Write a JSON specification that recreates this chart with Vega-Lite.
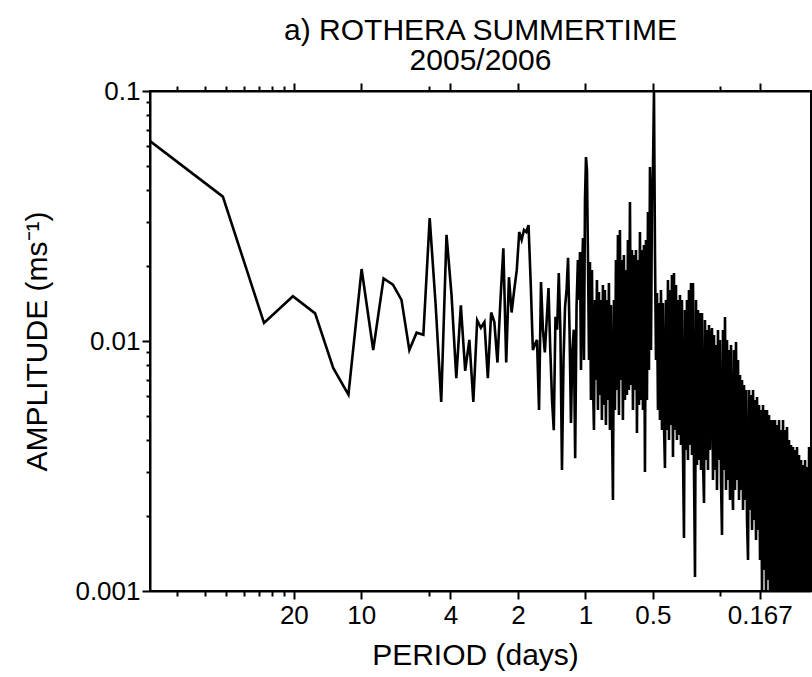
{
"$schema": "https://vega.github.io/schema/vega-lite/v6.json",
"autosize": {"type": "none"},
"width": 661, "height": 500,
"padding": {"left": 150, "top": 91, "right": 1, "bottom": 86},
"background": "white",
"config": {
  "font": "Liberation Sans",
  "view": {"stroke": "black", "strokeWidth": 2},
  "axis": {"domainColor": "black", "domainWidth": 2, "tickColor": "black", "tickWidth": 2, "labelColor": "black", "titleColor": "black", "grid": false, "labelFont": "Liberation Sans", "titleFont": "Liberation Sans", "labelFontSize": 26, "titleFontSize": 30, "titleFontWeight": "normal"}
},
"title": {"text": ["a) ROTHERA SUMMERTIME", "2005/2006"], "fontSize": 30, "font": "Liberation Sans", "fontWeight": "normal", "lineHeight": 30, "anchor": "middle", "offset": 2, "color": "black"},
"data": {"values": [
{"freq":0.0114,"amp":0.0631},{"freq":0.0241,"amp":0.0378},{"freq":0.0368,"amp":0.0118},{"freq":0.0495,"amp":0.0151},{"freq":0.0622,"amp":0.0129},{"freq":0.0749,"amp":0.0078},{"freq":0.0876,"amp":0.0061},{"freq":0.1003,"amp":0.0194},{"freq":0.113,"amp":0.0092},{"freq":0.1257,"amp":0.0178},{"freq":0.1384,"amp":0.0168},{"freq":0.1511,"amp":0.0146},{"freq":0.1638,"amp":0.0092},{"freq":0.1765,"amp":0.0108},{"freq":0.1892,"amp":0.0106},{"freq":0.2019,"amp":0.031},{"freq":0.2146,"amp":0.014},{"freq":0.2273,"amp":0.0057},{"freq":0.24,"amp":0.0266},{"freq":0.2527,"amp":0.0153},
{"freq":0.2654,"amp":0.0071},{"freq":0.2781,"amp":0.0139},{"freq":0.2908,"amp":0.0076},{"freq":0.3035,"amp":0.0101},{"freq":0.3162,"amp":0.0057},{"freq":0.3289,"amp":0.0121},{"freq":0.3416,"amp":0.0113},{"freq":0.3543,"amp":0.0119},{"freq":0.367,"amp":0.0071},{"freq":0.3797,"amp":0.013},{"freq":0.3924,"amp":0.0119},{"freq":0.4051,"amp":0.0082},{"freq":0.4178,"amp":0.0146},{"freq":0.4305,"amp":0.0235},{"freq":0.4432,"amp":0.0082},{"freq":0.4559,"amp":0.018},{"freq":0.4686,"amp":0.013},{"freq":0.4813,"amp":0.016},{"freq":0.494,"amp":0.0192},{"freq":0.5067,"amp":0.0273},
{"freq":0.5194,"amp":0.0254},{"freq":0.5321,"amp":0.0278},{"freq":0.5448,"amp":0.0273},{"freq":0.5575,"amp":0.0291},{"freq":0.5702,"amp":0.017},{"freq":0.5829,"amp":0.0092},{"freq":0.5956,"amp":0.0097},{"freq":0.6083,"amp":0.0101},{"freq":0.621,"amp":0.0053},{"freq":0.6337,"amp":0.0172},{"freq":0.6464,"amp":0.0111},{"freq":0.6591,"amp":0.009},{"freq":0.6718,"amp":0.0121},{"freq":0.6845,"amp":0.0163},{"freq":0.6972,"amp":0.0092},{"freq":0.7099,"amp":0.0058},{"freq":0.7226,"amp":0.0044},{"freq":0.7353,"amp":0.0125},{"freq":0.748,"amp":0.0111},{"freq":0.7607,"amp":0.0187},
{"freq":0.7734,"amp":0.0111},{"freq":0.7861,"amp":0.00305},{"freq":0.7988,"amp":0.0084},{"freq":0.8115,"amp":0.0137},{"freq":0.8242,"amp":0.016},{"freq":0.8369,"amp":0.0215},{"freq":0.8496,"amp":0.0111},{"freq":0.8623,"amp":0.0047},{"freq":0.875,"amp":0.0092},{"freq":0.8877,"amp":0.0111},{"freq":0.9004,"amp":0.0034},{"freq":0.9131,"amp":0.0137},{"freq":0.9258,"amp":0.0211},{"freq":0.9385,"amp":0.0146},
{"freq":0.946,"amp":0.0227},{"freq":0.9558,"amp":0.007656},{"freq":0.9656,"amp":0.01754},{"freq":0.9756,"amp":0.02583},{"freq":0.9857,"amp":0.008395},{"freq":0.9959,"amp":0.03664},{"freq":1.0062,"amp":0.05446},{"freq":1.0166,"amp":0.04831},{"freq":1.0271,"amp":0.02109},{"freq":1.0377,"amp":0.008395},
{"freq":1.048,"amp":0.0207},{"freq":1.0588,"amp":0.005808},{"freq":1.0698,"amp":0.01923},{"freq":1.0808,"amp":0.00698},{"freq":1.092,"amp":0.004406},{"freq":1.1033,"amp":0.01459},{"freq":1.1146,"amp":0.00698},{"freq":1.1262,"amp":0.01754},{"freq":1.1378,"amp":0.005297},{"freq":1.1496,"amp":0.01571},
{"freq":1.161,"amp":0.00608},{"freq":1.173,"amp":0.01459},{"freq":1.1851,"amp":0.004831},{"freq":1.1974,"amp":0.01675},{"freq":1.2097,"amp":0.005547},{"freq":1.2222,"amp":0.016},{"freq":1.2349,"amp":0.004614},{"freq":1.2476,"amp":0.01459},{"freq":1.2605,"amp":0.005808},{"freq":1.2735,"amp":0.01706},
{"freq":1.287,"amp":0.004406},{"freq":1.3003,"amp":0.01393},{"freq":1.3137,"amp":0.005059},{"freq":1.3273,"amp":0.002312},{"freq":1.341,"amp":0.01459},{"freq":1.3549,"amp":0.005297},{"freq":1.3689,"amp":0.02109},{"freq":1.383,"amp":0.006368},{"freq":1.3973,"amp":0.02655},{"freq":1.4117,"amp":0.005059},
{"freq":1.426,"amp":0.0278},{"freq":1.4407,"amp":0.00698},{"freq":1.4556,"amp":0.02109},{"freq":1.4706,"amp":0.004831},{"freq":1.4858,"amp":0.02208},{"freq":1.5012,"amp":0.005808},{"freq":1.5167,"amp":0.01923},{"freq":1.5324,"amp":0.00608},{"freq":1.5482,"amp":0.02535},{"freq":1.5642,"amp":0.006368},
{"freq":1.581,"amp":0.03597},{"freq":1.5973,"amp":0.006666},{"freq":1.6138,"amp":0.02312},{"freq":1.6305,"amp":0.005297},{"freq":1.6473,"amp":0.02208},{"freq":1.6644,"amp":0.006368},{"freq":1.6816,"amp":0.02312},{"freq":1.6989,"amp":0.004286},{"freq":1.7165,"amp":0.02109},{"freq":1.7342,"amp":0.005547},
{"freq":1.752,"amp":0.02729},{"freq":1.7701,"amp":0.005808},{"freq":1.7884,"amp":0.02312},{"freq":1.8069,"amp":0.005297},{"freq":1.8255,"amp":0.02421},{"freq":1.8444,"amp":0.002992},{"freq":1.8634,"amp":0.02535},{"freq":1.8827,"amp":0.005808},{"freq":1.9021,"amp":0.03281},{"freq":1.9218,"amp":0.007656},
{"freq":1.942,"amp":0.04966},{"freq":1.9621,"amp":0.009204},{"freq":1.9824,"amp":0.03664},{"freq":2.0028,"amp":0.04831},{"freq":2.0235,"amp":0.1},{"freq":2.0444,"amp":0.02249},{"freq":2.0655,"amp":0.008395},{"freq":2.0869,"amp":0.01556},{"freq":2.1084,"amp":0.005297},{"freq":2.1302,"amp":0.01419},
{"freq":2.152,"amp":0.004831},{"freq":2.1742,"amp":0.016},{"freq":2.1967,"amp":0.004406},{"freq":2.2194,"amp":0.01419},{"freq":2.2423,"amp":0.004614},{"freq":2.2655,"amp":0.003105},{"freq":2.2889,"amp":0.01459},{"freq":2.3126,"amp":0.004406},{"freq":2.3365,"amp":0.01754},{"freq":2.3606,"amp":0.004018},
{"freq":2.385,"amp":0.016},{"freq":2.4096,"amp":0.004614},{"freq":2.4345,"amp":0.01836},{"freq":2.4597,"amp":0.003435},{"freq":2.4851,"amp":0.0187},{"freq":2.5107,"amp":0.004406},{"freq":2.5367,"amp":0.01675},{"freq":2.5629,"amp":0.004018},{"freq":2.5894,"amp":0.01459},{"freq":2.6161,"amp":0.004208},
{"freq":2.643,"amp":0.01528},{"freq":2.6703,"amp":0.003837},{"freq":2.6979,"amp":0.01459},{"freq":2.7258,"amp":0.003664},{"freq":2.754,"amp":0.00163},{"freq":2.7824,"amp":0.0133},{"freq":2.8112,"amp":0.003664},{"freq":2.8402,"amp":0.01459},{"freq":2.8695,"amp":0.003342},{"freq":2.8991,"amp":0.016},
{"freq":2.93,"amp":0.003837},{"freq":2.9603,"amp":0.01706},{"freq":2.9909,"amp":0.003499},{"freq":3.0218,"amp":0.01706},{"freq":3.053,"amp":0.003048},{"freq":3.0845,"amp":0.001137},{"freq":3.1164,"amp":0.01459},{"freq":3.1486,"amp":0.003192},{"freq":3.1811,"amp":0.0133},{"freq":3.214,"amp":0.003342},
{"freq":3.247,"amp":0.01294},{"freq":3.2805,"amp":0.003048},{"freq":3.3144,"amp":0.01294},{"freq":3.3487,"amp":0.003342},{"freq":3.3833,"amp":0.002249},{"freq":3.4182,"amp":0.01213},{"freq":3.4535,"amp":0.003342},{"freq":3.4892,"amp":0.01107},{"freq":3.5253,"amp":0.003048},{"freq":3.5617,"amp":0.01158},
{"freq":3.598,"amp":0.003664},{"freq":3.6352,"amp":0.01009},{"freq":3.6727,"amp":0.01127},{"freq":3.7107,"amp":0.00278},{"freq":3.749,"amp":0.01057},{"freq":3.7877,"amp":0.003048},{"freq":3.8269,"amp":0.009636},{"freq":3.8664,"amp":0.002535},{"freq":3.9064,"amp":0.01107},{"freq":3.9467,"amp":0.003342},
{"freq":3.988,"amp":0.01009},{"freq":4.0292,"amp":0.00278},{"freq":4.0708,"amp":0.001675},{"freq":4.1129,"amp":0.01107},{"freq":4.1554,"amp":0.003048},{"freq":4.1983,"amp":0.01247},{"freq":4.2417,"amp":0.002535},{"freq":4.2855,"amp":0.01009},{"freq":4.3298,"amp":0.00278},{"freq":4.3745,"amp":0.009204},
{"freq":4.42,"amp":0.002312},{"freq":4.4657,"amp":0.009636},{"freq":4.5118,"amp":0.003048},{"freq":4.5584,"amp":0.002109},{"freq":4.6055,"amp":0.009204},{"freq":4.653,"amp":0.002535},{"freq":4.7011,"amp":0.009905},{"freq":4.7497,"amp":0.00278},{"freq":4.7987,"amp":0.008395},{"freq":4.8483,"amp":0.002312},
{"freq":4.899,"amp":0.007312},{"freq":4.9496,"amp":0.002535},{"freq":5.0007,"amp":0.00698},{"freq":5.0524,"amp":0.002109},{"freq":5.1046,"amp":0.006666},{"freq":5.1573,"amp":0.002312},{"freq":5.2106,"amp":0.006368},{"freq":5.2644,"amp":0.001923},{"freq":5.3188,"amp":0.00133},{"freq":5.3737,"amp":0.006368},
{"freq":5.43,"amp":0.002109},{"freq":5.4861,"amp":0.006081},{"freq":5.5428,"amp":0.001754},{"freq":5.6,"amp":0.006368},{"freq":5.6579,"amp":0.001923},{"freq":5.7163,"amp":0.005808},{"freq":5.7754,"amp":0.0016},{"freq":5.8351,"amp":0.00597},{"freq":5.8953,"amp":0.001754},{"freq":5.9562,"amp":0.005547},
{"freq":6.017,"amp":0.00133},{"freq":6.0792,"amp":0.005297},{"freq":6.142,"amp":0.000964},{"freq":6.2054,"amp":0.005547},{"freq":6.2695,"amp":0.001213},{"freq":6.3343,"amp":0.005297},{"freq":6.3997,"amp":0.00092},{"freq":6.4658,"amp":0.005297},{"freq":6.5326,"amp":0.001107},{"freq":6.6001,"amp":0.005059},
{"freq":6.67,"amp":0.00084},{"freq":6.7389,"amp":0.004831},{"freq":6.8085,"amp":0.001009},{"freq":6.8788,"amp":0.004831},{"freq":6.9499,"amp":0.000766},{"freq":7.0217,"amp":0.004831},{"freq":7.0942,"amp":0.00092},{"freq":7.1675,"amp":0.004614},{"freq":7.2415,"amp":0.00084},{"freq":7.3163,"amp":0.004831},
{"freq":7.39,"amp":0.000698},{"freq":7.4663,"amp":0.004406},{"freq":7.5434,"amp":0.00092},{"freq":7.6214,"amp":0.004831},{"freq":7.7001,"amp":0.000766},{"freq":7.7796,"amp":0.004406},{"freq":7.86,"amp":0.00084},{"freq":7.9412,"amp":0.00453},{"freq":8.0232,"amp":0.000698},{"freq":8.1061,"amp":0.004018},
{"freq":8.19,"amp":0.00092},{"freq":8.2746,"amp":0.003837},{"freq":8.36,"amp":0.000766},{"freq":8.4464,"amp":0.003767},{"freq":8.5336,"amp":0.000637},{"freq":8.6218,"amp":0.003664},{"freq":8.7109,"amp":0.00084},{"freq":8.8008,"amp":0.003767},{"freq":8.8917,"amp":0.000698},{"freq":8.9836,"amp":0.003499},
{"freq":9.08,"amp":0.000581},{"freq":9.1738,"amp":0.003342},{"freq":9.2686,"amp":0.000766},{"freq":9.3643,"amp":0.003192},{"freq":9.4611,"amp":0.000637},{"freq":9.5588,"amp":0.003342},{"freq":9.6575,"amp":0.000766},{"freq":9.7573,"amp":0.003133},{"freq":9.858,"amp":0.000637},{"freq":9.9599,"amp":0.003767},
{"freq":10.06,"amp":0.000766},{"freq":10.164,"amp":0.003664}
]},
"layer": [
  {
    "mark": {"type": "line", "color": "black", "strokeWidth": 2.6, "clip": true},
    "encoding": {
      "x": {"field": "freq", "type": "quantitative", "scale": {"type": "log", "domain": [0.0114, 10.16], "nice": false},
        "axis": {"orient": "bottom", "values": [0.05, 0.1, 0.25, 0.5, 1, 2, 6], "labelExpr": "format(1/datum.value, '.3~f')", "tickSize": 8, "labelPadding": 3, "labelFlush": false, "labelOverlap": false, "title": "PERIOD (days)", "titleX": 325, "titleY": 73, "titleBaseline": "alphabetic", "titleAlign": "center"}},
      "y": {"field": "amp", "type": "quantitative", "scale": {"type": "log", "domain": [0.001, 0.1], "nice": false},
        "axis": {"orient": "left", "values": [0.001, 0.01, 0.1], "labelExpr": "format(datum.value, '.3~f')", "tickSize": 8, "labelPadding": 2, "labelFlush": false, "labelOverlap": false, "title": "AMPLITUDE (ms⁻¹)", "titleX": -104, "titleY": 250, "titleAngle": -90, "titleAlign": "center", "titleBaseline": "alphabetic"}}
    }
  },
  {
    "mark": {"type": "point", "opacity": 0},
    "encoding": {
      "x": {"field": "freq", "type": "quantitative", "scale": {"type": "log", "domain": [0.0114, 10.16], "nice": false},
        "axis": {"orient": "bottom", "values": [0.015, 0.02, 0.025, 0.03, 0.035, 0.04, 0.045, 0.2, 4], "labels": false, "domain": false, "tickSize": 5, "title": null}},
      "y": {"field": "amp", "type": "quantitative", "scale": {"type": "log", "domain": [0.001, 0.1], "nice": false},
        "axis": {"orient": "left", "values": [0.002, 0.003, 0.004, 0.005, 0.006, 0.007, 0.008, 0.009, 0.02, 0.03, 0.04, 0.05, 0.06, 0.07, 0.08, 0.09], "labels": false, "domain": false, "tickSize": 4, "title": null}}
    }
  },
  {
    "mark": {"type": "point", "opacity": 0},
    "encoding": {
      "x": {"field": "freq", "type": "quantitative", "scale": {"type": "log", "domain": [0.0114, 10.16], "nice": false},
        "axis": {"orient": "top", "values": [0.05, 0.1, 0.25, 0.5, 1, 2, 6], "labels": false, "tickSize": 8, "title": null}},
      "y": {"field": "amp", "type": "quantitative", "scale": {"type": "log", "domain": [0.001, 0.1], "nice": false}, "axis": null}
    }
  },
  {
    "mark": {"type": "point", "opacity": 0},
    "encoding": {
      "x": {"field": "freq", "type": "quantitative", "scale": {"type": "log", "domain": [0.0114, 10.16], "nice": false},
        "axis": {"orient": "top", "values": [0.015, 0.02, 0.025, 0.03, 0.035, 0.04, 0.045, 0.2, 4], "labels": false, "domain": false, "tickSize": 5, "title": null}},
      "y": {"field": "amp", "type": "quantitative", "scale": {"type": "log", "domain": [0.001, 0.1], "nice": false}, "axis": null}
    }
  }
],
"resolve": {"axis": {"x": "independent", "y": "independent"}}
}
